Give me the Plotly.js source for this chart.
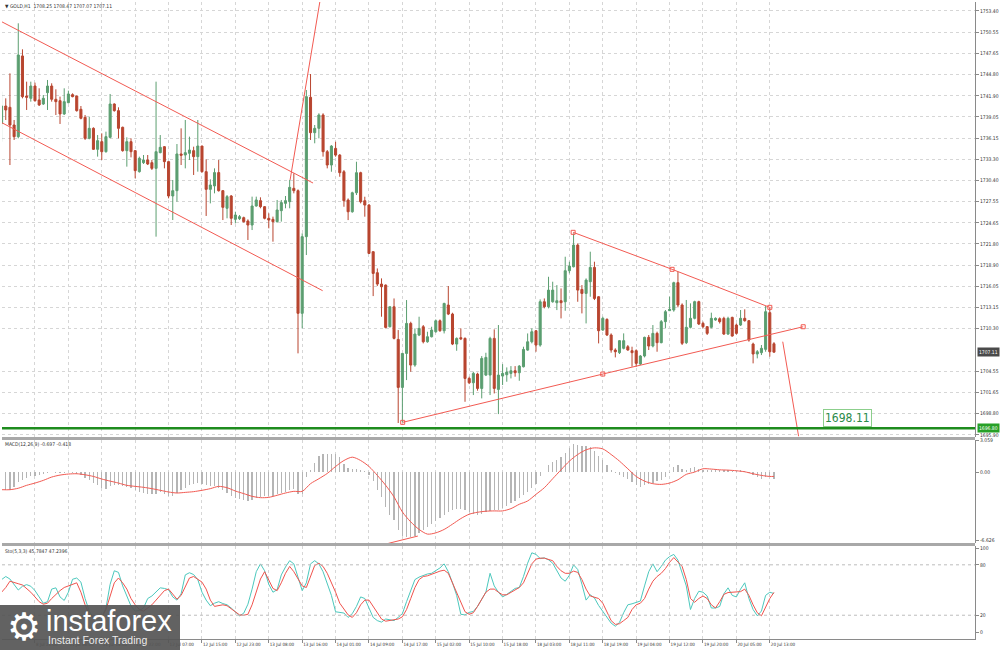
<!DOCTYPE html>
<html><head><meta charset="utf-8">
<script src="https://cdn.plot.ly/plotly-3.0.1.min.js"></script>
<style>html,body{margin:0;padding:0;background:#fff}#chart{width:1000px;height:650px}</style>
</head><body><div id="chart"></div>
<script>
// ---------- data (GOLD H1) ----------
const firstBar = -48; // bar index of first visible candle (12 Jul 15:00 = 0)
const open = [
1738.16,1740.51,1740.33,1737.93,1736.35,1747.30,1741.87,1741.55,1743.22,1741.33,
1740.78,1742.32,1743.22,1741.42,1741.23,1739.43,1740.96,1742.05,1741.87,1740.06,
1738.97,1736.12,1737.48,1734.63,1735.67,1734.31,1736.26,1740.78,1739.88,1737.62,
1734.45,1735.67,1734.45,1731.60,1732.82,1733.18,1732.82,1732.05,1734.18,1734.99,
1732.96,1728.30,1729.02,1734.00,1733.86,1734.09,1734.45,1733.64,1735.08,1731.60,
1729.20,1729.66,1731.47,1729.02,1726.63,1728.30,1725.13,1725.22,1725.36,1724.91,
1724.36,1726.94,1727.67,1726.85,1725.27,1725.13,1724.82,1726.31,1727.30,1727.53,
1729.34,1729.02,1712.38,1722.78,1741.69,1736.89,1737.48,1739.29,1734.31,1732.50,
1734.76,1733.85,1731.59,1727.75,1726.16,1728.74,1731.46,1727.66,1727.07,1720.74,
1717.89,1716.35,1716.21,1710.56,1713.27,1708.84,1702.33,1706.94,1711.01,1705.36,
1709.43,1710.56,1708.52,1709.20,1709.88,1711.37,1710.02,1713.50,1712.28,1708.21,
1709.07,1708.98,1703.55,1702.96,1704.14,1702.19,1704.00,1704.00,1708.98,1702.06,
1703.87,1704.05,1704.23,1704.59,1704.32,1705.13,1707.39,1708.52,1710.02,1708.07,
1713.95,1713.27,1713.95,1713.82,1714.09,1713.95,1718.16,1718.70,1721.64,1715.62,
1715.08,1716.67,1718.61,1714.63,1710.11,1711.56,1709.44,1707.40,1707.04,1707.63,
1707.85,1707.31,1707.31,1705.50,1706.59,1709.12,1707.94,1709.66,1708.40,1711.25,
1712.74,1712.83,1716.54,1713.51,1708.40,1710.48,1711.70,1713.96,1711.02,1710.57,
1710.48,1711.47,1711.65,1711.70,1709.57,1711.83,1710.79,1710.79,1711.70,1711.38,
1708.21,1706.86,1707.04,1707.49,1712.47,1708.25];
const high = [
1742.46,1741.55,1744.94,1738.61,1751.73,1748.20,1743.81,1743.81,1743.68,1742.91,
1742.00,1744.04,1743.59,1742.77,1741.78,1742.91,1742.59,1742.23,1741.90,1740.51,
1739.29,1739.06,1737.62,1736.57,1736.80,1737.03,1742.14,1740.87,1740.33,1737.71,
1736.26,1736.12,1734.54,1733.64,1733.86,1733.86,1733.18,1743.81,1736.57,1735.08,
1733.00,1730.47,1735.35,1737.48,1738.61,1736.35,1734.99,1738.61,1735.10,1733.27,
1730.56,1732.05,1733.18,1729.11,1728.43,1728.43,1726.17,1725.72,1725.50,1725.13,
1728.21,1728.21,1728.12,1726.94,1725.95,1725.50,1727.76,1727.76,1728.30,1730.47,
1731.37,1729.20,1723.23,1742.68,1744.85,1737.93,1739.52,1739.52,1734.54,1735.21,
1735.66,1733.99,1731.82,1727.97,1728.88,1732.95,1731.59,1728.20,1727.20,1720.80,
1718.47,1717.12,1716.30,1713.30,1714.40,1710.11,1707.00,1714.18,1711.24,1710.33,
1711.92,1710.79,1709.88,1710.56,1711.55,1711.55,1713.82,1716.08,1712.46,1709.11,
1710.33,1709.11,1703.78,1704.45,1704.32,1706.58,1707.03,1709.20,1710.20,1710.79,
1705.49,1705.04,1705.22,1705.22,1705.36,1707.85,1709.65,1710.33,1710.11,1714.27,
1714.40,1717.34,1716.67,1716.21,1715.76,1720.06,1719.38,1723.22,1721.87,1716.21,
1717.12,1720.74,1719.38,1714.72,1711.92,1711.70,1709.66,1707.63,1708.76,1709.66,
1708.08,1707.85,1707.49,1706.72,1709.21,1709.44,1710.79,1709.89,1711.47,1712.83,
1714.64,1716.67,1718.03,1713.73,1714.19,1713.73,1714.09,1714.09,1711.25,1710.66,
1712.47,1711.83,1711.83,1711.92,1711.92,1711.92,1711.00,1712.83,1712.92,1711.47,
1708.40,1707.40,1708.08,1713.37,1713.19,1708.47];
const low = [
1735.67,1738.61,1732.50,1735.90,1736.12,1741.55,1739.97,1741.10,1741.10,1740.51,
1740.65,1739.97,1741.10,1739.29,1738.07,1739.29,1740.87,1741.69,1739.74,1738.70,
1735.90,1735.99,1734.54,1733.64,1733.18,1734.18,1736.12,1739.74,1736.12,1734.31,
1732.28,1733.54,1730.70,1731.47,1732.64,1732.50,1731.83,1722.78,1734.09,1732.05,
1727.98,1725.04,1727.53,1732.50,1732.05,1733.18,1731.15,1731.60,1731.47,1725.59,
1727.30,1728.66,1728.89,1725.04,1725.27,1724.36,1724.59,1725.04,1724.68,1722.33,
1723.68,1726.85,1726.63,1725.13,1723.91,1722.10,1724.68,1724.82,1726.63,1726.63,
1728.66,1706.95,1710.34,1720.29,1735.90,1735.45,1736.12,1733.64,1732.05,1731.59,
1733.63,1730.91,1726.84,1725.03,1726.03,1728.43,1727.30,1725.49,1720.42,1714.72,
1716.08,1711.92,1710.33,1710.47,1708.84,1697.50,1697.60,1703.32,1704.45,1705.13,
1709.29,1708.30,1708.39,1709.11,1709.75,1709.88,1709.65,1712.14,1708.07,1707.30,
1708.75,1700.38,1702.78,1701.29,1701.88,1700.84,1703.87,1701.29,1701.51,1698.71,
1702.65,1703.10,1703.55,1703.78,1703.23,1705.04,1707.30,1708.30,1707.17,1707.85,
1713.05,1713.05,1713.82,1712.82,1711.69,1712.73,1717.80,1718.61,1713.95,1712.37,
1711.01,1714.63,1714.18,1708.30,1710.00,1709.30,1707.04,1706.40,1706.86,1707.49,
1707.31,1705.14,1705.14,1705.36,1706.40,1707.40,1707.76,1707.17,1708.31,1710.34,
1712.70,1712.60,1713.19,1708.08,1708.21,1710.34,1711.56,1710.79,1710.34,1709.44,
1710.34,1711.38,1711.00,1709.44,1709.44,1709.21,1709.50,1710.66,1711.25,1708.53,
1705.59,1706.27,1706.72,1707.17,1706.50,1707.07];
const close = [
1740.51,1739.97,1737.93,1736.35,1747.43,1741.78,1741.69,1743.22,1741.23,1740.65,
1741.55,1743.22,1741.42,1741.10,1739.43,1741.10,1742.14,1741.78,1739.88,1738.84,
1736.12,1737.48,1734.63,1735.81,1734.31,1736.35,1740.78,1739.88,1737.48,1734.45,
1735.67,1734.31,1731.74,1733.41,1733.18,1732.64,1732.05,1734.31,1734.90,1732.96,
1728.30,1729.02,1734.00,1733.82,1734.18,1734.54,1733.64,1735.08,1731.60,1729.20,
1729.79,1731.47,1729.02,1726.76,1728.21,1725.27,1725.72,1725.50,1724.82,1724.36,
1726.94,1727.76,1726.85,1725.27,1725.04,1724.82,1726.40,1727.40,1727.67,1729.47,
1729.02,1712.38,1722.78,1741.78,1736.89,1737.48,1739.29,1734.31,1732.50,1735.07,
1733.85,1731.46,1727.66,1726.16,1728.74,1731.46,1727.52,1727.07,1720.51,1717.80,
1716.35,1715.99,1710.47,1713.27,1708.98,1702.33,1706.94,1711.01,1705.36,1709.57,
1710.33,1708.52,1709.20,1710.11,1711.37,1710.02,1713.72,1712.28,1708.21,1708.98,
1708.93,1703.55,1702.96,1704.23,1702.19,1706.26,1706.40,1708.98,1702.19,1704.00,
1704.23,1704.41,1704.59,1704.32,1705.22,1707.48,1708.52,1709.88,1708.07,1713.95,
1713.27,1715.53,1715.53,1714.09,1713.82,1718.16,1718.79,1721.64,1715.53,1715.08,
1716.89,1718.61,1714.40,1710.02,1711.70,1709.44,1707.40,1707.17,1708.67,1708.67,
1707.40,1707.04,1705.59,1706.59,1709.12,1707.94,1709.66,1708.40,1711.25,1712.60,
1712.92,1716.54,1713.51,1708.31,1710.48,1711.70,1713.96,1710.93,1710.57,1709.66,
1711.70,1711.70,1711.25,1709.57,1711.70,1709.30,1709.66,1711.70,1711.38,1708.76,
1706.86,1707.17,1707.63,1712.60,1707.17,1707.11];

// MACD(12,26,9): main (histogram) per bar, signal sampled every 2 bars
const macdMain = [
-1.70,-1.70,-1.70,-1.44,-0.96,-0.74,-0.54,-0.42,-0.35,-0.29,-0.22,-0.10,-0.03,-0.10,-0.10,-0.06,
-0.03,-0.10,-0.16,-0.29,-0.54,-0.80,-1.06,-1.28,-1.51,-1.63,-1.38,-1.28,-1.28,-1.38,-1.44,-1.51,
-1.76,-1.92,-1.99,-2.08,-2.15,-2.08,-1.96,-2.08,-2.28,-2.34,-2.02,-1.76,-1.51,-1.28,-1.12,-1.06,
-1.12,-1.28,-1.38,-1.38,-1.51,-1.76,-2.02,-2.28,-2.47,-2.60,-2.72,-2.79,-2.66,-2.47,-2.40,-2.34,
-2.34,-2.28,-2.15,-2.02,-1.89,-1.70,-1.60,-2.15,-2.08,-0.48,0.22,0.87,1.57,1.70,1.76,1.76,
1.76,1.44,0.80,0.42,0.32,0.29,0.22,0.10,-0.32,-0.87,-1.70,-2.40,-3.37,-4.17,-4.65,-5.61,
-6.19,-6.31,-6.25,-6.19,-5.93,-5.61,-5.35,-5.03,-4.71,-4.39,-4.17,-3.85,-3.62,-3.56,-3.56,-3.69,
-3.85,-4.01,-4.17,-4.01,-3.88,-3.75,-3.69,-3.69,
-3.43,-3.30,-2.98,-2.79,-2.47,-2.24,-1.92,-1.51,-1.19,-0.42,0.00,0.64,0.93,1.19,1.44,1.83,
2.34,2.72,2.60,2.53,2.53,2.47,2.02,1.60,1.19,0.64,0.16,-0.10,-0.32,-0.48,-0.64,-0.96,
-1.28,-1.44,-1.28,-1.19,-1.06,-0.87,-0.74,-0.48,-0.10,0.48,0.64,0.29,0.16,0.42,0.54,0.32,
0.22,0.22,0.22,0.29,0.22,0.16,0.16,0.10,0.10,0.16,0.10,-0.10,-0.32,-0.48,-0.67,-0.48,-0.42,-0.697];
const macdSignal = [
-1.70,-1.70,-1.56,-1.28,-1.06,-0.80,-0.48,-0.29,-0.19,-0.16,-0.26,-0.42,-0.67,-0.87,-1.06,-1.28,
-1.38,-1.47,-1.60,-1.76,-1.92,-2.02,-1.96,-1.89,-1.76,-1.60,-1.38,-1.51,-1.83,-2.08,-2.34,-2.47,
-2.44,-2.24,-2.02,-1.86,-1.86,-1.12,-0.64,-0.13,0.54,1.12,1.44,1.12,0.54,-0.32,-1.28,-2.40,
-3.85,-4.81,-5.54,-5.99,-5.87,-5.54,-5.03,-4.49,-4.07,-3.88,-3.78,-3.75,-3.75,-3.53,-3.11,-2.79,
-2.15,-1.51,-0.64,0.22,1.06,1.70,2.15,2.34,2.24,1.70,1.06,0.32,-0.42,-0.87,-1.12,-1.19,
-1.06,-0.74,-0.22,0.00,0.32,0.29,0.22,0.19,0.13,0.03,-0.16,-0.32,-0.42,-0.418];
const signalStep = 2;

// Stochastic(5,3,3): %K and %D per bar
const stochK = [
62.4,66.1,63.1,56.8,50,54.5,56.4,54.5,49.3,41.8,34.3,36.1,51.1,52.6,41.8,37.6,47.4,62.8,64.3,59.4,
39.9,24.9,16.6,15.5,18.1,28.6,56.8,72.9,71,54.9,43.6,30.9,24.9,25.6,28.6,39.9,42.9,47.4,52.6,51.9,
50.4,41.8,38,45.5,68,70.6,68.4,62.4,
47.4,38,31.3,34.3,36.1,33.9,32.4,28.6,24.1,19.3,22.4,33.1,51.1,71.8,81.1,72.9,56.8,47.4,50.4,68,
77.4,84.9,81.1,65.4,49.3,58.6,81.1,84.9,81.1,71.8,58.6,43.6,24.1,23,22.6,17.4,21.9,30.5,41.8,39.9,
27.9,17.4,13.6,11.8,15.5,14.4,13.6,17.4,21.9,36.1,49.3,62.4,65.4,67.6,69.1,69.9,72.9,76.3,81.1,71.8,
58.6,43.6,21.1,20.4,23.4,24.5,30.5,38.9,47.4,69.9,54.9,47.4,41.8,44.8,48.9,51.9,53,66.1,81.9,94.3,
92.4,87.5,88.3,86,81.9,72.9,64.3,60.5,67.6,80,74.4,56.8,38,44.3,40.6,31.6,24.1,17.4,10.6,6.9,
11.4,23,32.4,33.6,34.8,36.9,54.9,71.8,81.1,71.8,78.1,85.6,89.8,92.4,85.6,69.9,54.9,26.8,39.9,48.5,
47.4,42.9,28.6,28.6,30.5,45.5,52.6,43.6,41.8,51.1,58.6,39.9,26.8,19.3,25,43.6,47.4,45.7847];
const stochD = [
47.4,53,60.5,59.4,57.5,56,51.9,47.4,41.8,36.1,33.1,34.3,39.9,45.1,49.3,53,54.9,56.8,58.6,47.4,
32.4,21.1,17.4,17.4,17.4,26.8,43.6,58.6,64.3,58.6,51.1,39.9,32.4,26.8,24.9,28.6,32.4,38,43.6,49.3,
51.1,45.5,39.1,43.6,54.9,64.3,66.1,63.1,
59.4,51.1,38,30.5,31.6,32.4,31.3,27.9,24.1,20.4,20,21.1,32.4,47.4,63.1,71.8,62.4,51.9,49.3,58.6,
69.9,78.1,71.8,62.4,54.9,53,66.1,79.3,81.9,78.1,69.9,59.4,47.4,34.3,26.8,20.4,17.4,23,32.4,38,
38,30.5,23,15.5,12.9,13.6,14.4,15.5,18.1,26.8,39.9,53,62.4,66.1,66.9,68.4,70.6,72.5,73.6,69.9,
58.6,47.4,34.3,24.1,21.1,23,30.5,39.9,47.4,51.1,51.1,47.4,44.3,44.3,47.4,50.4,53,58.6,69.9,81.1,
86.8,87.9,87.9,86.8,84.9,78.1,72.9,69.9,69.9,72.5,71,62.4,51.1,42.9,41.4,39.9,34.3,23,13.6,9.1,
9.9,13.6,17.4,26.8,32.4,34.3,39.9,51.1,60.5,66.1,69.9,75.5,83,88.6,83,78.1,62.4,39.9,35.4,39.9,
42.9,39.9,32.4,28.6,36.1,44.8,47,47.4,47,48.1,51.1,43.6,32.4,23,19.3,30.5,39.9,47.2396];

// time axis labels (every 8 bars)
const tickBars = [-48,-40,-32,-24,-16,-8,0,8,16,24,32,40,48,56,64,72,80,88,96,104,112,120,128,136];
const tickLabels = ['8 Jul 2022','8 Jul 21:00','11 Jul 06:00','11 Jul 14:00','11 Jul 22:00','12 Jul 07:00',
 '12 Jul 15:00','12 Jul 23:00','13 Jul 08:00','13 Jul 16:00','14 Jul 01:00','14 Jul 09:00','14 Jul 17:00',
 '15 Jul 02:00','15 Jul 10:00','15 Jul 18:00','18 Jul 03:00','18 Jul 11:00','18 Jul 19:00','19 Jul 04:00',
 '19 Jul 12:00','19 Jul 20:00','20 Jul 05:00','20 Jul 13:00'];
const priceTicks = [1753.40,1750.55,1747.65,1744.80,1741.90,1739.05,1736.15,1733.30,1730.40,1727.55,
 1724.65,1721.80,1718.90,1716.05,1713.15,1710.30,1704.55,1701.65,1698.80,1695.90];
const macdTicks = [3.059, 0, -6.626];
const macdTickText = ['3.059','0.00','-6.626'];
const stochTicks = [100, 80, 20, 0];
const stochLevels = [80, 20];

// drawn objects (bar index, price)
const channelUpper = {x:[-48, 26.6], y:[1751.95, 1730.06]};
const channelLower = {x:[-48.4, 28.9], y:[1738.38, 1715.45]};
const breakoutLine = {x:[21.1, 28.3], y:[1730.47, 1754.89]};
const triUpper = {x:[88.9, 112.6, 136.0], y:[1723.37, 1718.35, 1713.19]};
const triLower = {x:[48.07, 96.0, 144.0], y:[1697.59, 1704.14, 1710.56]};
const projection = {x:[139.1, 142.9], y:[1708.53, 1695.70]};
const macdDivergence = {x:[44.6, 51.7], y:[-6.89, -6.18]};
const supportLevel = 1696.80;
const targetLabel = {x:154.7, y:1698.2, text:'1698.11'};
const lastPrice = 1707.11;
const header = '\u25BC GOLD,H1  1708.25 1708.47 1707.07 1707.11';
const macdTitle = 'MACD(12,26,9) -0.697 -0.418';
const stochTitle = 'Sto(5,3,3) 45.7847 47.2396';

// ---------- chart ----------
const bars = open.map((_, i) => firstBar + i);
const sigX = macdSignal.map((_, i) => Math.min(firstBar + i * signalStep, bars[bars.length - 1]));
const RED = '#f25a52', NARROW = 'Liberation Sans Narrow, DejaVu Sans Condensed, Liberation Sans, Arial, sans-serif';
const tf = {size: 5, color: '#333', family: NARROW};

const traces = [
  {type:'candlestick', x:bars, open, high, low, close, xaxis:'x', yaxis:'y',
   increasing:{line:{color:'#5b9e70', width:1}, fillcolor:'#5b9e70'},
   decreasing:{line:{color:'#b8452f', width:1}, fillcolor:'#b8452f'}, whiskerwidth:0, hoverinfo:'skip'},
  {type:'scatter', mode:'lines', x:channelUpper.x, y:channelUpper.y, line:{color:RED, width:1}},
  {type:'scatter', mode:'lines', x:channelLower.x, y:channelLower.y, line:{color:RED, width:1}},
  {type:'scatter', mode:'lines', x:breakoutLine.x, y:breakoutLine.y, line:{color:RED, width:1}},
  {type:'scatter', mode:'lines+markers', x:triUpper.x, y:triUpper.y, line:{color:RED, width:1},
   marker:{symbol:'square-open', size:4, color:RED, line:{width:1}}},
  {type:'scatter', mode:'lines+markers', x:triLower.x, y:triLower.y, line:{color:RED, width:1},
   marker:{symbol:'square-open', size:4, color:RED, line:{width:1}}},
  {type:'scatter', mode:'lines', x:projection.x, y:projection.y, line:{color:RED, width:1}},
  {type:'bar', x:bars, y:macdMain, xaxis:'x', yaxis:'y2', width:0.3, marker:{color:'#b5b5b5', line:{width:0}}},
  {type:'scatter', mode:'lines', x:sigX, y:macdSignal, xaxis:'x', yaxis:'y2', line:{color:RED, width:1, shape:'spline', smoothing:0.8}},
  {type:'scatter', mode:'lines', x:macdDivergence.x, y:macdDivergence.y, xaxis:'x', yaxis:'y2', line:{color:RED, width:1}},
  {type:'scatter', mode:'lines', x:bars, y:stochK, xaxis:'x', yaxis:'y3', line:{color:'#4cc8bd', width:1}},
  {type:'scatter', mode:'lines', x:bars, y:stochD, xaxis:'x', yaxis:'y3', line:{color:'#f0534d', width:1}}
];

// plot area: x 2..975 px, y 2..639 px
const py = p => (639 - p) / 637, px = p => (p - 2) / 973;
const yAxisBase = {side:'right', anchor:'x', showline:true, linecolor:'#8a8a8a', linewidth:1, zeroline:false,
  ticks:'outside', ticklen:3, tickcolor:'#8a8a8a', tickfont:tf, fixedrange:true};

const layout = {
  width:1000, height:650, margin:{l:2, r:25, t:2, b:11},
  paper_bgcolor:'#ffffff', plot_bgcolor:'#ffffff', showlegend:false, hovermode:false,
  xaxis:{range:[-47.9, 185.15], anchor:'y3', tickvals:tickBars, ticktext:tickLabels, tickangle:0,
    ticks:'outside', ticklen:3, tickcolor:'#8a8a8a', tickfont:{size:4.5, color:'#333', family:NARROW},
    ticklabelposition:'outside right', ticklabelstandoff:1,
    showgrid:true, gridcolor:'#d6d6d6', griddash:'dot', gridwidth:1, zeroline:false,
    showline:true, linecolor:'#8a8a8a', rangeslider:{visible:false}, fixedrange:true},
  yaxis:Object.assign({}, yAxisBase, {domain:[py(437), 1], range:[1695.60, 1754.62],
    tickvals:priceTicks, ticktext:priceTicks.map(v => v.toFixed(2)),
    showgrid:true, gridcolor:'#d6d6d6', griddash:'dot', gridwidth:1}),
  yaxis2:Object.assign({}, yAxisBase, {domain:[py(543), py(440)], range:[-6.85, 3.10],
    tickvals:macdTicks, ticktext:macdTickText, showgrid:false}),
  yaxis3:Object.assign({}, yAxisBase, {domain:[0, py(546)], range:[-8.3, 102.4],
    tickvals:stochTicks, ticktext:stochTicks.map(String), showgrid:false}),
  bargap:0,
  shapes:[
    {type:'rect', xref:'paper', yref:'paper', x0:0, x1:1, y0:py(440), y1:py(437), fillcolor:'#a8a8a8', line:{width:0}},
    {type:'rect', xref:'paper', yref:'paper', x0:0, x1:1, y0:py(546), y1:py(543), fillcolor:'#a8a8a8', line:{width:0}},
    ...stochLevels.map(v => ({type:'line', xref:'paper', yref:'y3', x0:0, x1:1, y0:v, y1:v,
      line:{color:'#bdbdbd', width:1, dash:'dot'}})),
    {type:'line', xref:'paper', yref:'y', x0:0, x1:1, y0:supportLevel, y1:supportLevel, line:{color:'#1e8c1e', width:2.5}},
    {type:'rect', xref:'paper', yref:'paper', x0:px(0), x1:px(180), y0:py(650), y1:py(605),
      fillcolor:'#555555', opacity:0.92, line:{width:0}, layer:'above'}
  ],
  annotations:[
    {xref:'paper', yref:'paper', x:px(3), y:py(6), xanchor:'left', yanchor:'middle', showarrow:false,
      text:header, font:{size:5, color:'#333', family:NARROW}},
    {xref:'paper', yref:'paper', x:px(3), y:py(444), xanchor:'left', yanchor:'middle', showarrow:false,
      text:macdTitle, font:{size:5, color:'#333', family:NARROW}},
    {xref:'paper', yref:'paper', x:px(3), y:py(551), xanchor:'left', yanchor:'middle', showarrow:false,
      text:stochTitle, font:{size:5, color:'#333', family:NARROW}},
    {xref:'paper', yref:'y', x:1.002, y:lastPrice, xanchor:'left', yanchor:'middle', showarrow:false,
      text:lastPrice.toFixed(2), bgcolor:'#4a4a4a', borderpad:1, font:{size:5, color:'#ffffff', family:NARROW}},
    {xref:'paper', yref:'y', x:1.002, y:supportLevel, xanchor:'left', yanchor:'middle', showarrow:false,
      text:supportLevel.toFixed(2), bgcolor:'#27a027', borderpad:1, font:{size:5, color:'#ffffff', family:NARROW}},
    {xref:'x', yref:'y', x:targetLabel.x, y:targetLabel.y, xanchor:'center', yanchor:'middle', showarrow:false,
      text:targetLabel.text, bgcolor:'rgba(255,255,255,0.9)', bordercolor:'#8ccf8c', borderwidth:1, borderpad:1,
      font:{size:12, color:'#2b8a4a', family:NARROW}},
    {xref:'paper', yref:'paper', x:px(24), y:py(627), xanchor:'center', yanchor:'middle', showarrow:false,
      text:'\u2699', font:{size:38, color:'#ffffff', family:'DejaVu Sans'}},
    {xref:'paper', yref:'paper', x:px(44), y:py(621), xanchor:'left', yanchor:'middle', showarrow:false,
      text:'instaforex', font:{size:29, color:'#ffffff', family:'Liberation Sans, Arial, sans-serif'}},
    {xref:'paper', yref:'paper', x:px(46), y:py(640), xanchor:'left', yanchor:'middle', showarrow:false,
      text:'Instant Forex Trading', font:{size:10.5, color:'#ececec', family:'Liberation Sans, Arial, sans-serif'}}
  ]
};

Plotly.newPlot('chart', traces, layout, {staticPlot:true, displayModeBar:false});
</script></body></html>
